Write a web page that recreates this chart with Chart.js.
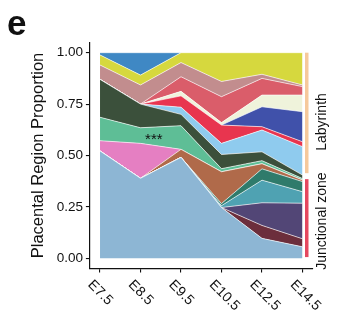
<!DOCTYPE html>
<html>
<head>
<meta charset="utf-8">
<script src="https://cdn.jsdelivr.net/npm/chart.js@4.4.0/dist/chart.umd.min.js"></script>
<style>
html, body { margin: 0; padding: 0; background: #fff; }
</style>
</head>
<body>
<canvas id="areaChart" width="350" height="325"></canvas>
<script>
var stages = ['E7.5', 'E8.5', 'E9.5', 'E10.5', 'E12.5', 'E14.5'];
var yTicks = [0, 0.25, 0.5, 0.75, 1];

// layer proportions, bottom to top
var lightBlue  = [0.522, 0.389, 0.491, 0.247, 0.097, 0.056];
var maroon     = [0, 0, 0, 0, 0.063, 0.039];
var purple     = [0, 0, 0, 0, 0.110, 0.173];
var cadetTeal  = [0, 0, 0, 0.009, 0.110, 0.056];
var darkTeal   = [0, 0, 0, 0.010, 0.055, 0.049];
var brown      = [0, 0, 0.039, 0.155, 0.025, 0.008];
var pink       = [0.050, 0.170, 0, 0, 0, 0];
var aquamarine = [0.114, 0.076, 0.115, 0.015, 0.015, 0.007];
var darkGreen  = [0.184, 0.115, 0.055, 0.069, 0.043, 0.017];
var skyBlue    = [0, 0, 0.035, 0.054, 0.106, 0.138];
var crimson    = [0, 0, 0.055, 0.089, 0.016, 0.024];
var royalBlue  = [0, 0, 0, 0, 0.097, 0.146];
var cream      = [0, 0, 0.022, 0.012, 0.057, 0.081];
var indianRed  = [0, 0, 0.071, 0.126, 0.081, 0.041];
var rosy       = [0.070, 0.093, 0.069, 0.074, 0.020, 0.008];
var yellow     = [0.049, 0.048, 0.048, 0.140, 0.105, 0.157];
var steelBlue  = [0.011, 0.109, 0, 0, 0, 0];

// side annotation: region spans in proportion units
var regionNames  = ['Labyrinth', 'Junctional zone'];
var regionTop    = [1.0, 0.385];
var regionBottom = [0.414, 0.006];
var regionLabelY = [0.663, 0.181];
var regionColors = ['#f6c99c', '#e5485f'];

var layers = [
    [lightBlue, '#8db6d4'], [maroon, '#6c2e3c'], [purple, '#524676'],
    [cadetTeal, '#4fa2b2'], [darkTeal, '#2f7b6b'], [brown, '#b06a4a'],
    [pink, '#e57fc2'], [aquamarine, '#5ebe96'], [darkGreen, '#3b503b'],
    [skyBlue, '#8fcbee'], [crimson, '#e8354f'], [royalBlue, '#4051aa'],
    [cream, '#eff3db'], [indianRed, '#da5d6a'], [rosy, '#c28d8e'],
    [yellow, '#d6d83e'], [steelBlue, '#3f88c4']
];

var FONT = '"Liberation Sans", Arial, sans-serif';

var annotations = {
    id: 'annotations',
    afterDraw: function(chart) {
        var c = chart.ctx;
        var xs = chart.scales.x, ys = chart.scales.y;
        c.save();
        c.fillStyle = '#111';

        // x tick labels, rotated down to the right
        c.font = '14px ' + FONT;
        c.textAlign = 'left';
        c.textBaseline = 'top';
        stages.forEach(function(s, i) {
            c.save();
            c.translate(xs.getPixelForValue(i) - 5, xs.top + 9);
            c.rotate(Math.PI / 4);
            c.fillText(s, 0, 0);
            c.restore();
        });

        // y title
        c.save();
        c.font = '16.5px ' + FONT;
        c.textAlign = 'center';
        c.textBaseline = 'middle';
        c.translate(38, ys.getPixelForValue(0.5));
        c.rotate(-Math.PI / 2);
        c.fillText('Placental Region Proportion', 0, 0);
        c.restore();

        // significance mark
        c.font = '15px ' + FONT;
        c.textAlign = 'center';
        c.textBaseline = 'middle';
        c.fillText('***', xs.getPixelForValue(1.33), ys.getPixelForValue(0.575));

        // panel letter
        c.font = 'bold 35px ' + FONT;
        c.textAlign = 'left';
        c.textBaseline = 'alphabetic';
        c.fillText('e', 7, 35);

        // region bars + labels
        regionNames.forEach(function(name, i) {
            var t = ys.getPixelForValue(regionTop[i]);
            var b = ys.getPixelForValue(regionBottom[i]);
            c.fillStyle = regionColors[i];
            c.fillRect(305, t, 3.5, b - t);
            c.save();
            c.fillStyle = '#111';
            c.font = '14px ' + FONT;
            c.textAlign = 'center';
            c.textBaseline = 'alphabetic';
            c.translate(326, ys.getPixelForValue(regionLabelY[i]));
            c.rotate(-Math.PI / 2);
            c.fillText(name, 0, 0);
            c.restore();
        });
        c.restore();
    }
};

var ctx = document.getElementById('areaChart').getContext('2d');
var areaChart = new Chart(ctx, {
    type: 'line',
    data: {
        datasets: layers.map(function(l, i) {
            return {
                data: l[0].map(function(v, j) { return { x: j, y: v }; }),
                backgroundColor: l[1],
                borderColor: 'rgba(255,255,255,0.9)',
                borderWidth: 0.7,
                fill: i === 0 ? 'origin' : '-1',
                pointRadius: 0,
                tension: 0
            };
        })
    },
    options: {
        responsive: false,
        animation: false,
        layout: { padding: { top: 42.4, right: 37.4, bottom: 0, left: 0 } },
        plugins: { legend: { display: false }, tooltip: { enabled: false } },
        scales: {
            x: {
                type: 'linear',
                min: -0.25,
                max: 5.25,
                afterBuildTicks: function(s) { s.ticks = stages.map(function(_, i) { return { value: i }; }); },
                afterFit: function(s) { s.height = 56.4; },
                grid: { drawOnChartArea: false, color: '#111', tickLength: 4, lineWidth: 1.1 },
                border: { color: '#111', width: 1.2 },
                ticks: { display: false }
            },
            y: {
                stacked: true,
                min: -0.05,
                max: 1.05,
                afterBuildTicks: function(s) { s.ticks = yTicks.map(function(v) { return { value: v }; }); },
                afterFit: function(s) { s.width = 89.9; },
                grid: { drawOnChartArea: false, color: '#111', tickLength: 4, lineWidth: 1.1 },
                border: { color: '#111', width: 1.2 },
                ticks: {
                    color: '#111',
                    padding: 3,
                    font: { size: 13.5, family: FONT },
                    callback: function(v) { return v.toFixed(2); }
                }
            }
        }
    },
    plugins: [annotations]
});
</script>
</body>
</html>
